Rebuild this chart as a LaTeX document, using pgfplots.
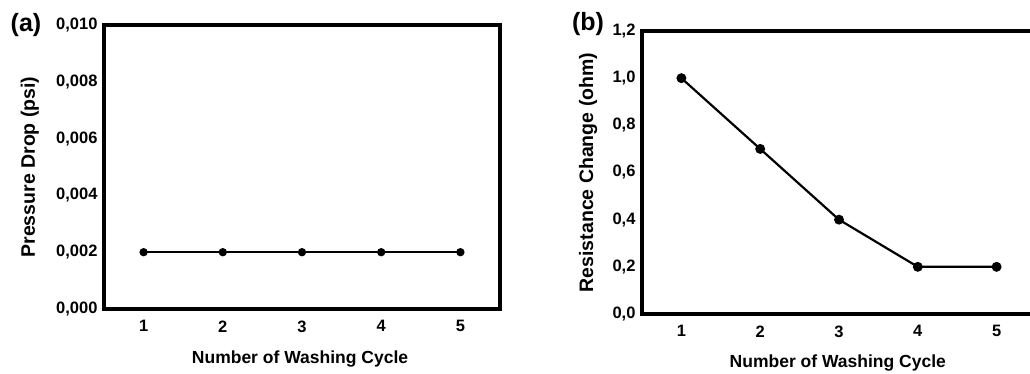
\documentclass[border=0pt]{standalone}
\usepackage{pgfplots}
\pgfplotsset{compat=1.18}
\usepackage{fontspec}
\setmainfont{Liberation Sans}

\pgfplotstableread{
cycle drop
1 0.002
2 0.002
3 0.002
4 0.002
5 0.002
}\pressuretable

\pgfplotstableread{
cycle res
1 1.0
2 0.7
3 0.4
4 0.2
5 0.2
}\resistancetable

\newcommand\xlabfont{\bfseries\fontsize{17.5}{20}\selectfont}
\newcommand\ylabfont{\bfseries\fontsize{19.5}{22}\selectfont}

\pgfplotsset{
  washstyle/.style={
    scale only axis,
    axis line style={line width=3.4pt},
    major tick length=0pt,
    xmin=0.5, xmax=5.5,
    xtick={1,2,3,4,5},
    tick label style={font=\bfseries\fontsize{16.5}{18}\selectfont},
    /pgf/number format/assume math mode=true,
    /pgf/number format/use comma,
    xticklabel style={yshift=-8pt},
    yticklabel style={xshift=-3pt},
    clip=false,
  },
}

\begin{document}
\begin{tikzpicture}
% panel (a): pressure drop
\begin{axis}[washstyle,
  at={(104pt,65pt)}, anchor=south west,
  width=396pt, height=284pt,
  ymin=0, ymax=0.010,
  ytick={0,0.002,0.004,0.006,0.008,0.010},
  scaled y ticks=false,
  yticklabel style={/pgf/number format/.cd,fixed,fixed zerofill,precision=3},
  xlabel={Number of Washing Cycle},
  ylabel={Pressure Drop (psi)},
  every axis x label/.style={at={(axis description cs:0.495,-0.176)},anchor=center,font=\xlabfont},
  every axis y label/.style={at={(axis description cs:-0.187,0.5)},anchor=center,rotate=90,font=\ylabfont},
]
\addplot[black, line width=2.2pt, mark=*, mark size=3pt] table[x=cycle,y=drop] {\pressuretable};
\end{axis}
\node[font=\bfseries\fontsize{25}{28}\selectfont] at (26pt,349pt) {(a)};

% panel (b): resistance change
\begin{axis}[washstyle,
  at={(642pt,60pt)}, anchor=south west,
  width=394pt, height=283pt,
  ymin=0, ymax=1.2,
  ytick={0,0.2,0.4,0.6,0.8,1.0,1.2},
  yticklabel style={/pgf/number format/.cd,fixed,fixed zerofill,precision=1},
  xlabel={Number of Washing Cycle},
  ylabel={Resistance Change (ohm)},
  every axis x label/.style={at={(axis description cs:0.497,-0.173)},anchor=center,font=\xlabfont},
  every axis y label/.style={at={(axis description cs:-0.137,0.5)},anchor=center,rotate=90,font=\ylabfont},
]
\addplot[black, line width=2.2pt, mark=*, mark size=3.8pt] table[x=cycle,y=res] {\resistancetable};
\end{axis}
\node[font=\bfseries\fontsize{25}{28}\selectfont] at (588pt,350pt) {(b)};

\pgfresetboundingbox
\path[use as bounding box] (0pt,0pt) rectangle (1030pt,374pt);
\end{tikzpicture}
\end{document}
